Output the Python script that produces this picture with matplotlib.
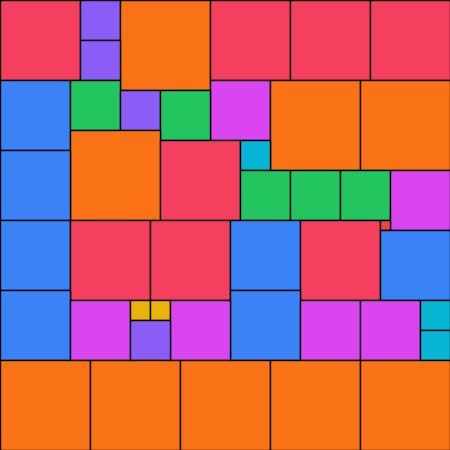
import matplotlib
matplotlib.use("Agg")
import matplotlib.pyplot as plt
from matplotlib.patches import Rectangle
import numpy as np

# Square side lengths, in placement order
sizes = [80, 40, 90, 80, 80, 80, 40, 70, 50, 60, 90, 90, 40, 50, 90, 80, 30, 70,
         50, 50, 50, 60, 70, 80, 80, 70, 80, 10, 70, 70, 70, 60, 20, 20, 60, 60,
         60, 30, 40, 30, 90, 90, 90, 90, 90]
canvas = 450

colors = {
    90: "#F97316", 80: "#F43F5E", 70: "#3B82F6", 60: "#D946EF",
    50: "#22C55E", 40: "#8B5CF6", 30: "#06B6D4", 20: "#EAB308", 10: "#EF4444",
}

# Pack squares: each goes at the first free cell (top-most, then left-most)
step = 10
n = canvas // step
grid = np.zeros((n, n), dtype=bool)
placed = []
for s in sizes:
    k = s // step
    done = False
    for r in range(n):
        for c in range(n):
            if not grid[r, c]:
                grid[r:r + k, c:c + k] = True
                placed.append((c * step, r * step, s))
                done = True
                break
        if done:
            break

fig = plt.figure(figsize=(4.5, 4.5), dpi=100)
ax = fig.add_axes([0, 0, 1, 1])
for x, y, s in placed:
    ax.add_patch(Rectangle((x, y), s, s, facecolor=colors[s],
                           edgecolor="black", linewidth=1.0))
ax.set_xlim(0, canvas)
ax.set_ylim(canvas, 0)
ax.axis("off")
fig.savefig("out.png", dpi=100)
